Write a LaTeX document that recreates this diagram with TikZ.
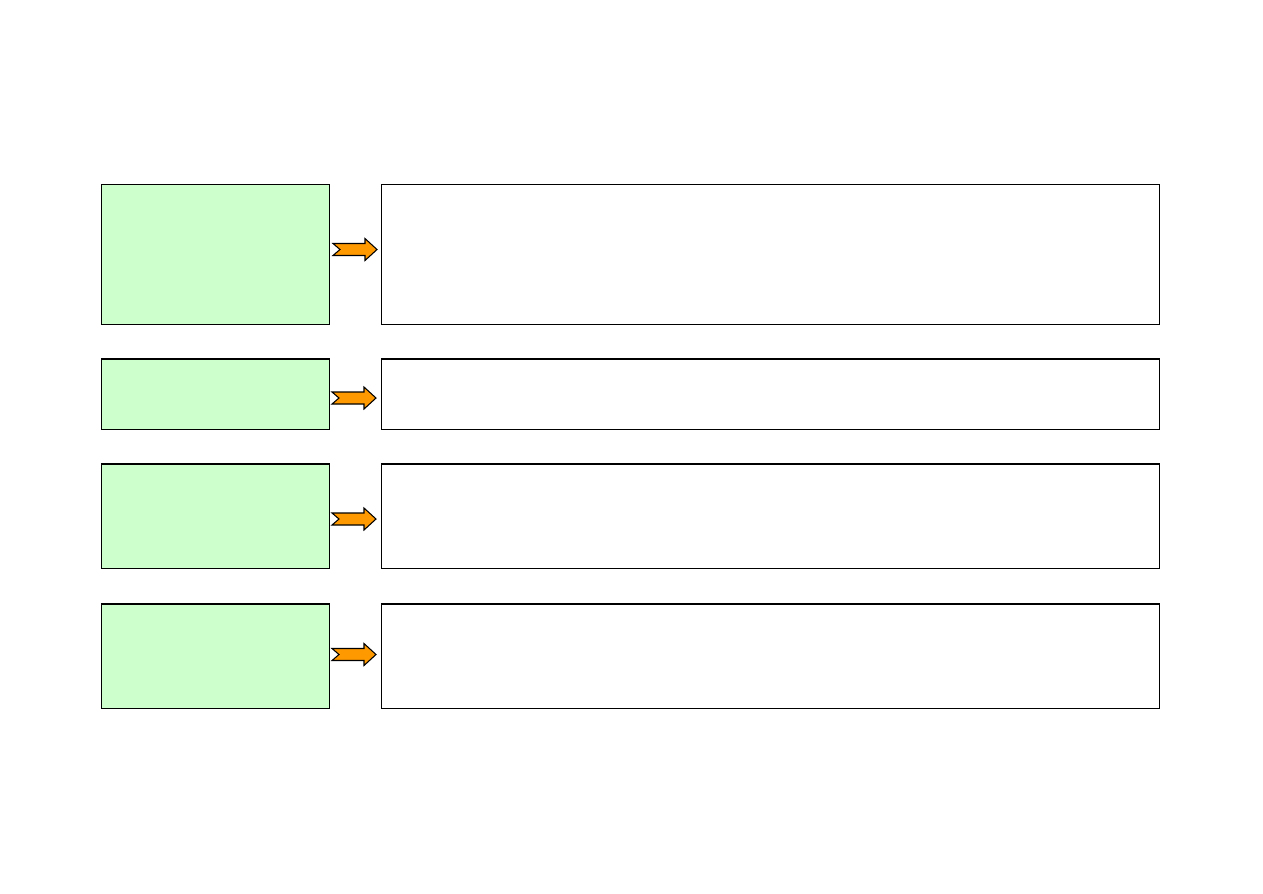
\documentclass[tikz,border=0pt]{standalone}
\usepackage{xcolor}
\usepackage{tikz}
\usetikzlibrary{calc}

\definecolor{paleGreen}{HTML}{CCFFCC}
\definecolor{arrowOrange}{HTML}{FF9900}

\tikzset{
  keybox/.style={draw=black,fill=paleGreen,line width=0.3pt,inner sep=0pt,minimum width=2.28cm},
  textbox/.style={draw=black,fill=white,line width=0.3pt,inner sep=0pt,minimum width=7.77cm},
  blockarrow/.style={draw=black,fill=arrowOrange,line width=0.3pt,line join=miter}
}

\begin{document}
\begin{tikzpicture}[x=0.01cm,y=-0.01cm]
  \useasboundingbox (0,0) rectangle (1263,893);
  % left column
  \node[keybox,minimum height=1.39cm] (K1) at (215.5,254.5) {};
  \node[keybox,minimum height=0.70cm] (K2) at (215.5,394.0) {};
  \node[keybox,minimum height=1.04cm] (K3) at (215.5,516.0) {};
  \node[keybox,minimum height=1.04cm] (K4) at (215.5,656.0) {};
  % right column
  \node[textbox,minimum height=1.39cm] (T1) at (770.5,254.5) {};
  \node[textbox,minimum height=0.70cm] (T2) at (770.5,394.0) {};
  \node[textbox,minimum height=1.04cm] (T3) at (770.5,516.0) {};
  \node[textbox,minimum height=1.04cm] (T4) at (770.5,656.0) {};
  % arrow centres
  \coordinate (A1) at (355,249.5);
  \coordinate (A2) at (354,398.0);
  \coordinate (A3) at (354,519.0);
  \coordinate (A4) at (354,654.5);
  \draw[blockarrow,shift={(A1)}] (-22,-6) -- (10,-6) -- (10,-11) -- (22,0) -- (10,11) -- (10,6) -- (-22,6) -- (-15,0) -- cycle;
  \draw[blockarrow,shift={(A2)}] (-22,-6) -- (10,-6) -- (10,-11) -- (22,0) -- (10,11) -- (10,6) -- (-22,6) -- (-15,0) -- cycle;
  \draw[blockarrow,shift={(A3)}] (-22,-6) -- (10,-6) -- (10,-11) -- (22,0) -- (10,11) -- (10,6) -- (-22,6) -- (-15,0) -- cycle;
  \draw[blockarrow,shift={(A4)}] (-22,-6) -- (10,-6) -- (10,-11) -- (22,0) -- (10,11) -- (10,6) -- (-22,6) -- (-15,0) -- cycle;
\end{tikzpicture}
\end{document}
